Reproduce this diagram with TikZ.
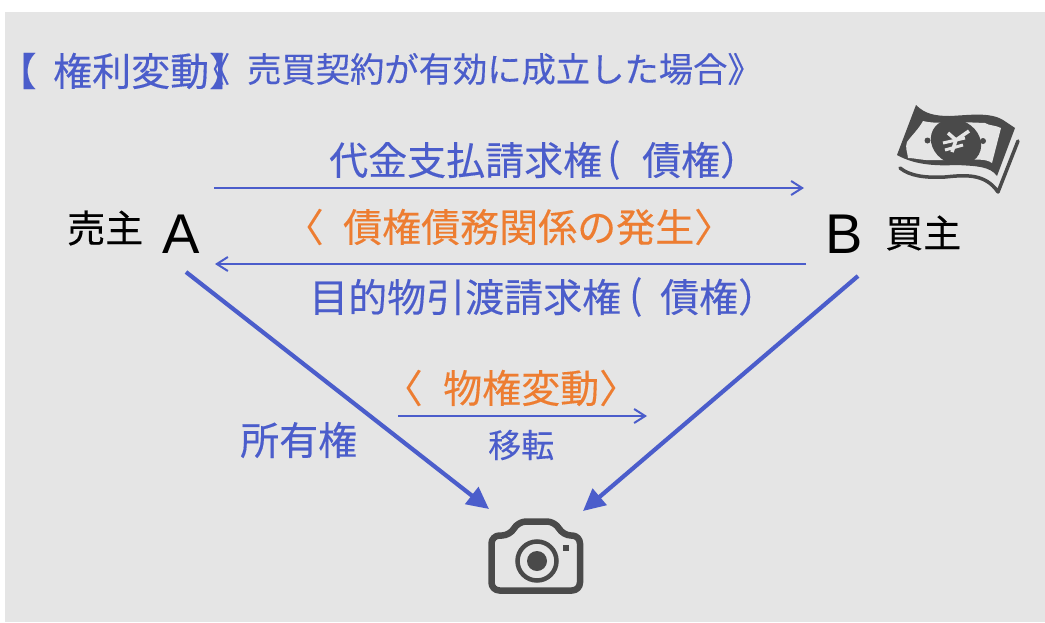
\documentclass[tikz,border=0pt]{standalone}
\usepackage{fontspec}
\setmainfont[FakeBold=0.25]{Noto Sans CJK JP}
\newfontfamily\paltfont[RawFeature=+palt,FakeBold=0.25]{Noto Sans CJK JP}
\newfontfamily\latin{Liberation Sans}
\definecolor{bluetxt}{HTML}{4B5DCB}
\definecolor{orangetxt}{HTML}{ED7D31}
\definecolor{bgray}{HTML}{E5E5E5}
\definecolor{icon}{HTML}{4A4A4A}
\newcommand{\fsz}[1]{\fontsize{#1}{#1}\selectfont}
\usetikzlibrary{arrows.meta}
\tikzset{
  lab/.style={inner sep=0pt,anchor=west,text=bluetxt},
  org/.style={inner sep=0pt,anchor=west,text=orangetxt},
  blk/.style={inner sep=0pt,text=black},
  thin arrow/.style={draw=bluetxt,line width=1.8pt,-{Straight Barb[length=11pt,width=14pt,line width=2pt]}},
  thick arrow/.style={draw=bluetxt,line width=4.2pt,-{Triangle[length=22pt,width=21pt]}},
  iconline/.style={draw=icon,line join=round,line cap=round,fill=none},
}
\begin{document}
\begin{tikzpicture}[x=1pt,y=-1pt]
\useasboundingbox (0,0) rectangle (1045,622);
\fill[white] (0,0) rectangle (1045,622);
\fill[bgray] (5,12) rectangle (1045,622);
% title
\node[lab,font=\paltfont\fsz{39}] (t1) at (16,71) {【};
\node[lab,font=\fsz{39}] (t2) at (53,71) {権利変動】};
\node[lab,font=\fsz{34.3}] (t4) at (247,69) {売買契約が有効に成立した場合》};
\node[lab,font=\paltfont\fsz{34}] (t5) at (212,69) {《};
% labels
\node[lab,font=\fsz{39}] (l1) at (329,160) {代金支払請求権};
\node[lab,font=\fsz{39}] (l1a) at (607,160) {(};
\node[lab,font=\fsz{39}] (l1b) at (642,160) {債権）};
\node[org,font=\paltfont\fsz{39}] (o1) at (303,227) {〈};
\node[org,font=\fsz{39}] (o1b) at (343,227) {債権債務関係の発生〉};
\node[lab,font=\fsz{39}] (l2) at (309,297) {目的物引渡請求権};
\node[lab,font=\fsz{39}] (l2a) at (629,297) {(};
\node[lab,font=\fsz{39}] (l2b) at (660,297) {債権）};
\node[org,font=\paltfont\fsz{39}] (o2) at (402,388) {〈};
\node[org,font=\fsz{39}] (o2b) at (443,388) {物権変動〉};
\node[lab,font=\fsz{39}] (s) at (240,440) {所有権};
\node[lab,font=\fsz{33}] (m) at (488,445) {移転};
% parties
\node[blk,anchor=west,font=\fsz{38}] (seller) at (67,228) {売主};
\node[blk,anchor=west,font=\fsz{38}] (buyer) at (885,233) {買主};
\node[blk,font=\latin\fsz{56}] (A) at (181,234) {A};
\node[blk,font=\latin\fsz{56}] (B) at (844,234) {B};
% connector ends
\coordinate (ab1) at (214,188); \coordinate (ab2) at (804,188);
\coordinate (ba1) at (806,264); \coordinate (ba2) at (215,264);
\coordinate (m1) at (398,416); \coordinate (m2) at (647,416);
\coordinate (as) at (186,272); \coordinate (ae) at (489,509);
\coordinate (bs) at (858,276); \coordinate (be) at (583,511);
\draw[thin arrow] (ab1) -- (ab2);
\draw[thin arrow] (ba1) -- (ba2);
\draw[thin arrow] (m1) -- (m2);
\draw[thick arrow] (as) -- (ae);
\draw[thick arrow] (bs) -- (be);
% camera
\draw[iconline,line width=6.5pt,rounded corners=8pt] (491.5,535.5) -- (510,535.5) -- (518,521.5) -- (555,521.5) -- (563,535.5) -- (580,535.5) -- (580,590.5) -- (491.5,590.5) -- cycle;
\draw[draw=icon,line width=4.5pt] (537,561) circle (19.5);
\fill[icon] (537,561) circle (10);
\fill[icon] (562.5,545) rectangle (568.5,551);
% money
\fill[icon] (916,105) .. controls (925,114) and (935,116) .. (950,116) .. controls (970,115) and (990,112) .. (1003,120) -- (1015,128) -- (997,176) .. controls (990,166) and (975,166) .. (957,165) .. controls (935,166) and (915,165) .. (897,155) -- cycle;
\fill[bgray] (923,121) .. controls (935,124) and (945,122) .. (960,122) -- (985,123) .. controls (990,126) and (995,125) .. (1001,128) -- (992,163) .. controls (985,158) and (975,160) .. (960,160) -- (935,160) .. controls (925,161) and (915,158) .. (908,158) .. controls (907,150) and (905,148) .. (907,142) .. controls (912,135) and (918,130) .. (923,121) -- cycle;
\fill[icon,rotate around={-28:(956,142)}] (956,142) ellipse (26 and 22);
\draw[draw=bgray,line width=3.5pt] (948,133) -- (956,140) -- (969,131) (956,140) -- (952,152);
\draw[draw=bgray,line width=3pt] (943,143) -- (965,138) (945,150) -- (963,145);
\fill[icon] (927.5,140.5) circle (3);
\fill[icon] (983,141) circle (3);
\draw[iconline,line width=3.5pt] (900,168) .. controls (910,176) and (925,178) .. (945,177) .. controls (965,175) and (985,173) .. (998,192) -- (1018,141);
\end{tikzpicture}
\end{document}
